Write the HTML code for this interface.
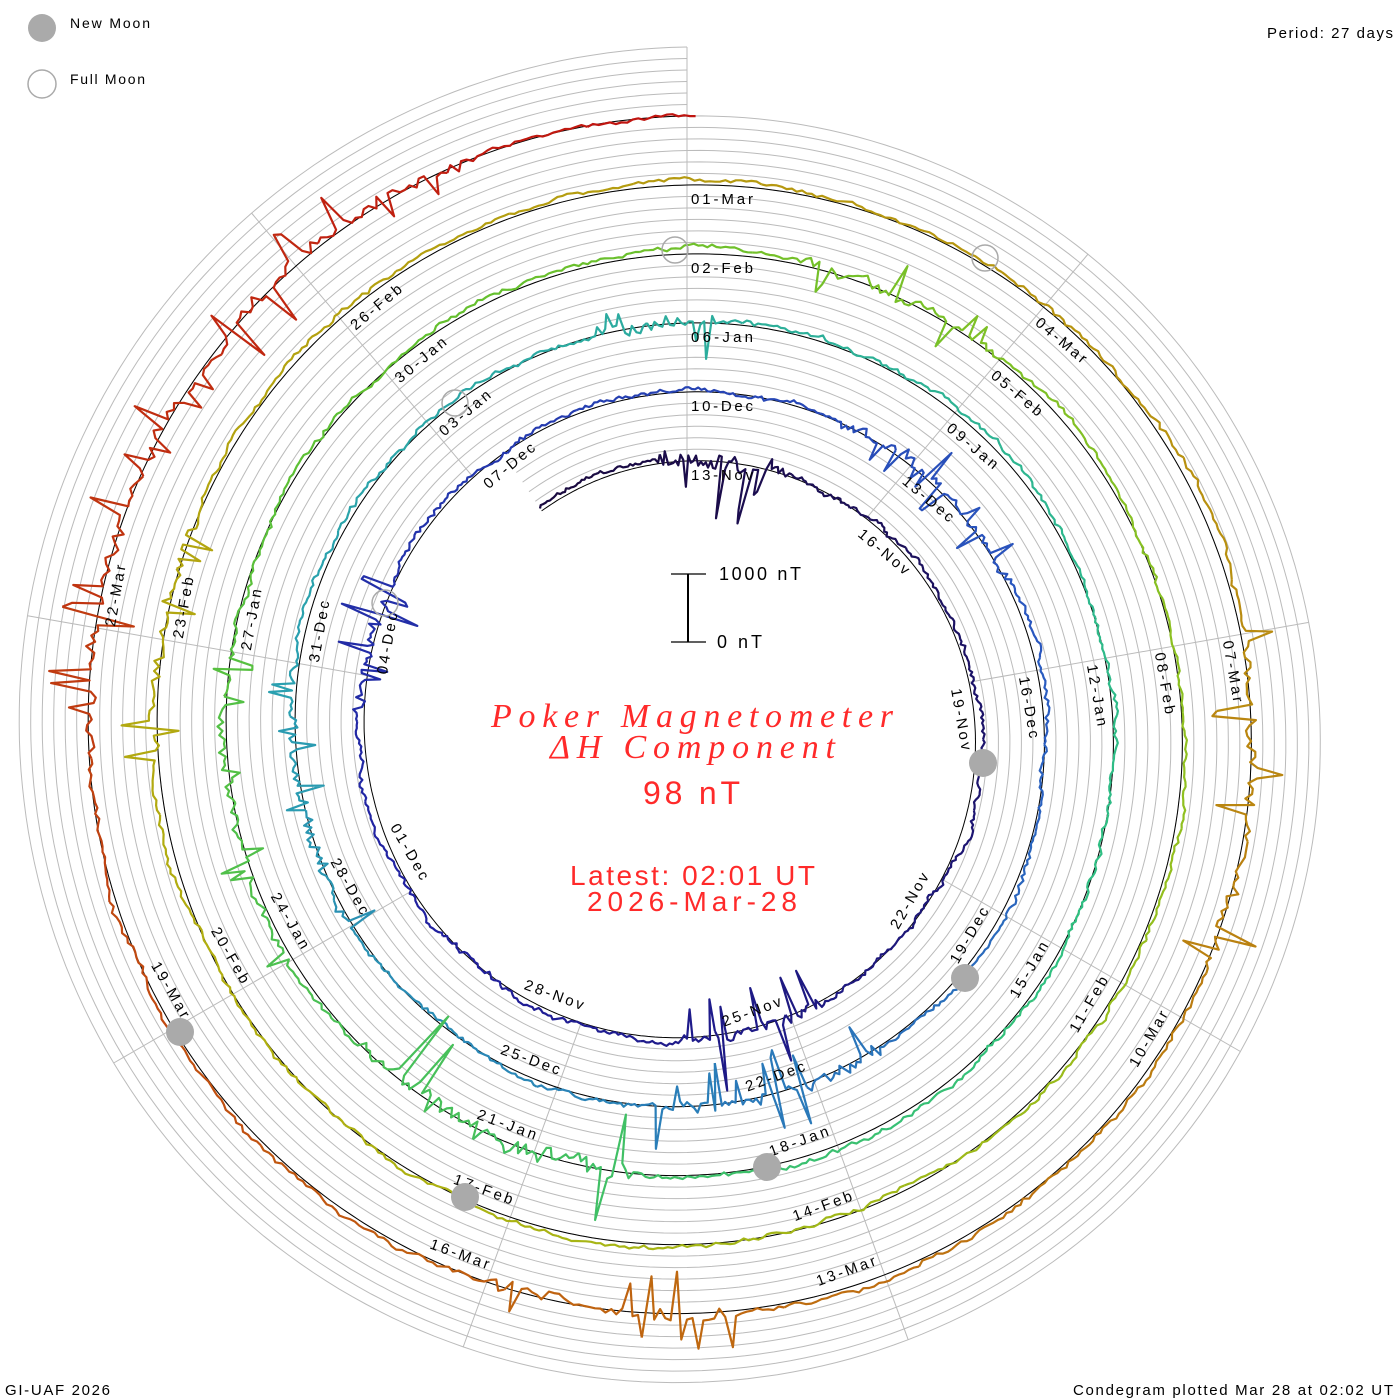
<!DOCTYPE html>
<html><head><meta charset="utf-8">
<style>
html,body{margin:0;padding:0;background:#fff;}
svg{display:block;font-family:"Liberation Sans","DejaVu Sans",sans-serif;}
</style></head>
<body>
<svg id="s" width="1400" height="1400" viewBox="0 0 1400 1400" xmlns="http://www.w3.org/2000/svg">
<rect width="1400" height="1400" fill="#fff"/>
<g id="grid"></g>
<g id="blk"></g>
<g id="tr"></g>
<g id="lab" font-size="15" fill="#000"></g>
<g id="moon"></g>
<circle cx="42" cy="28" r="14" fill="#aaa"/>
<text x="70" y="28" font-size="14" fill="#000" textLength="80" lengthAdjust="spacing">New Moon</text>
<circle cx="42" cy="84" r="14" fill="none" stroke="#aaa" stroke-width="1.5"/>
<text x="70" y="84" font-size="14" fill="#000" textLength="75" lengthAdjust="spacing">Full Moon</text>
<text x="1267" y="38" font-size="15" fill="#000" textLength="126" lengthAdjust="spacing">Period: 27 days</text>
<text x="5" y="1395" font-size="15" fill="#000" textLength="105" lengthAdjust="spacing">GI-UAF 2026</text>
<text x="1073" y="1395" font-size="15" fill="#000" textLength="320" lengthAdjust="spacing">Condegram plotted Mar 28 at 02:02 UT</text>
<line x1="688" y1="574" x2="688" y2="642" stroke="#000" stroke-width="2"/>
<line x1="671" y1="574" x2="706" y2="574" stroke="#000" stroke-width="1.3"/>
<line x1="671" y1="642" x2="706" y2="642" stroke="#000" stroke-width="1.3"/>
<text x="719" y="580" font-size="18" fill="#000" textLength="82" lengthAdjust="spacing">1000 nT</text>
<text x="717" y="648" font-size="18" fill="#000" textLength="45" lengthAdjust="spacing">0 nT</text>
<text x="491" y="727" font-size="34" font-style="italic" font-family="Liberation Serif,serif" fill="#ff2a2a" textLength="402" lengthAdjust="spacing">Poker Magnetometer</text>
<text x="550" y="758" font-size="34" font-style="italic" font-family="Liberation Serif,serif" fill="#ff2a2a" textLength="285" lengthAdjust="spacing">ΔH Component</text>
<text x="643" y="804" font-size="32" fill="#ff2a2a" textLength="97" lengthAdjust="spacing">98 nT</text>
<text x="570" y="885" font-size="28" fill="#ff2a2a" textLength="245" lengthAdjust="spacing">Latest: 02:01 UT</text>
<text x="587" y="911" font-size="28" fill="#ff2a2a" textLength="210" lengthAdjust="spacing">2026-Mar-28</text>
</svg>
<script>
(function(){
var NS="http://www.w3.org/2000/svg";
var cx=687,cy=732;
function R(d){return 340+69*(d-39)/27;}
function T(d){return (d-39)*2*Math.PI/27;}
function P(d,r){var t=T(d);return [cx+r*Math.sin(t),cy-r*Math.cos(t)];}
function el(n,a,p){var e=document.createElementNS(NS,n);for(var k in a)e.setAttribute(k,a[k]);p.appendChild(e);return e;}
var D0=9.5,D1=147.08;
var grid=document.getElementById('grid');
for(var j=1;j<=6;j++){
  var pts=[];
  for(var d=D0;d<=D1;d+=0.1){var p=P(d,R(d)+j*11.5);pts.push(p[0].toFixed(1)+","+p[1].toFixed(1));}
  el('polyline',{points:pts.join(" "),fill:"none",stroke:"#bbb","stroke-width":"1"},grid);
}
for(var k=0;k<9;k++){
  var ds=[];for(var d=39+k*3-27*3;d<=200;d+=27){ds.push(d);}
  var first=null,last=null;
  ds.forEach(function(d){if(d>=D0&&first===null)first=d;if(d<D1-0.01)last=d;});
  var a=P(first,R(first)),b=P(last,R(last+27));
  el('line',{x1:a[0],y1:a[1],x2:b[0],y2:b[1],stroke:"#bbb","stroke-width":"1"},grid);
}
var pts=[];
for(var d=D0;d<=D1;d+=0.05){var p=P(d,R(d));pts.push(p[0].toFixed(1)+","+p[1].toFixed(1));}
el('polyline',{points:pts.join(" "),fill:"none",stroke:"#000","stroke-width":"1"},document.getElementById('blk'));
var seed=12345;function rnd(){seed=(seed*1103515245+12345)%2147483648;return seed/2147483648;}
var stops=[[10,[26,10,64]],[30,[32,32,160]],[45,[42,90,192]],[60,[42,160,176]],[75,[48,192,128]],[90,[96,192,48]],[100,[144,192,32]],[110,[176,176,16]],[125,[184,144,16]],[135,[192,96,16]],[147.1,[192,16,16]]];
function col(d){for(var i=0;i<stops.length-1;i++){if(d<=stops[i+1][0]){var f=Math.max(0,(d-stops[i][0])/(stops[i+1][0]-stops[i][0]));var a=stops[i][1],b=stops[i+1][1];return "rgb("+[0,1,2].map(function(q){return Math.round(a[q]+(b[q]-a[q])*f);}).join(",")+")";}}return "rgb(192,16,16)";}
// [start,end,amp,bias]: bias>0 inward-biased
var dist=[[11.5,13.6,60,0.4],[23.5,25.6,55,0.6],[32.5,34.2,45,0],[41,44,35,0.5],[50,53,50,0.5],[57,60,35,0],[65,66.3,40,0.4],[80,83,90,0.7],[84,87,30,0],[94,96,35,0.5],[113,115,40,0],[126,128.5,45,0],[133,135,45,-0.6],[140,145.5,45,0.2]];
var tr=document.getElementById('tr');
var v=0;
var seg=[],segStart=D0;
for(var d=D0;d<=D1;d+=0.04){
  v+=(rnd()-0.5)*3;v*=0.94;
  var off=v+3+(rnd()-0.5)*3;
  for(var i=0;i<dist.length;i++){var I=dist[i];if(d>=I[0]&&d<=I[1]){
    var sgn=(rnd()<0.5+I[3]/2)?-1:1;
    var q=rnd();
    if(q<0.12) off+=sgn*I[2]*(0.4+0.6*rnd());
    else off+=sgn*I[2]*0.12*rnd();
  }}
  var p=P(d,R(d)+off);
  var s=p[0].toFixed(1)+","+p[1].toFixed(1);
  seg.push(s);
  if(d-segStart>=1){
    el('polyline',{points:seg.join(" "),fill:"none",stroke:col(segStart+0.5),"stroke-width":"2.2","stroke-linejoin":"round"},tr);
    seg=[s];segStart=d;
  }
}
if(seg.length>1)el('polyline',{points:seg.join(" "),fill:"none",stroke:col(segStart),"stroke-width":"2.2"},tr);
var mons=[["Nov",30],["Dec",31],["Jan",31],["Feb",28],["Mar",31]];
function dn(d){var m=0;while(d>=mons[m][1]){d-=mons[m][1];m++;}var dd=d+1;return (dd<10?"0":"")+dd+"-"+mons[m][0];}
var lab=document.getElementById('lab');
for(var d=12;d<=141;d+=3){
  var t=T(d),r=R(d),p=P(d,r),deg=t*180/Math.PI;
  if(Math.cos(t)>=0){
    el('text',{transform:"translate("+p[0].toFixed(1)+","+p[1].toFixed(1)+") rotate("+deg.toFixed(2)+")",x:"4",y:"19","text-anchor":"start",textLength:"62",lengthAdjust:"spacing"},lab).textContent=dn(d);
  }else{
    el('text',{transform:"translate("+p[0].toFixed(1)+","+p[1].toFixed(1)+") rotate("+(deg-180).toFixed(2)+")",x:"-66",y:"-12","text-anchor":"start",textLength:"62",lengthAdjust:"spacing"},lab).textContent=dn(d);
  }
}
var mg=document.getElementById('moon');
[[983,763],[965,978],[767,1167],[465,1197],[180,1032]].forEach(function(c){el('circle',{cx:c[0],cy:c[1],r:14,fill:"#aaa"},mg);});
[[675,250],[985,258],[455,403],[385,603]].forEach(function(c){el('circle',{cx:c[0],cy:c[1],r:13,fill:"none",stroke:"#aaa","stroke-width":"1.5"},mg);});
})();
</script>
</body></html>
